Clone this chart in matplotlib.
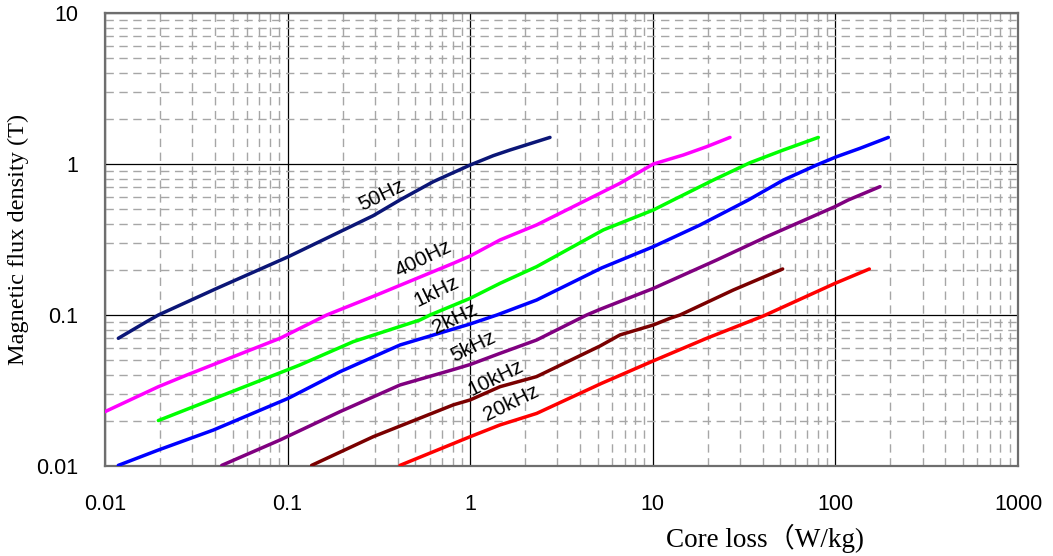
import matplotlib
matplotlib.use("Agg")
import matplotlib.pyplot as plt
from matplotlib.ticker import LogLocator, FixedLocator, FixedFormatter, NullFormatter

# Core loss (W/kg) vs. peak flux density (T) for each excitation frequency
loss_50hz = [0.01183, 0.0169, 0.0196, 0.0409, 0.101, 0.2947, 0.4126, 0.628, 1.0, 1.339, 1.652, 2.735]
flux_50hz = [0.0701, 0.0903, 0.100, 0.150, 0.2434, 0.455, 0.578, 0.764, 0.985, 1.136, 1.238, 1.50]

loss_400hz = [0.01, 0.0196, 0.028, 0.0909, 0.1637, 0.3075, 0.808, 1.0, 1.456, 2.312, 4.343, 6.61, 10.07, 14.69, 19.72, 26.47]
flux_400hz = [0.0229, 0.0335, 0.0400, 0.0701, 0.100, 0.1357, 0.220, 0.246, 0.314, 0.395, 0.578, 0.745, 1.0, 1.147, 1.302, 1.50]

loss_1khz = [0.0196, 0.028, 0.1169, 0.229, 0.531, 0.603, 1.0, 1.456, 2.312, 5.36, 10.07, 12.95, 21.45, 34.06, 51.87, 80.64]
flux_1khz = [0.020, 0.0237, 0.0467, 0.0666, 0.0927, 0.100, 0.129, 0.162, 0.209, 0.366, 0.496, 0.578, 0.783, 1.02, 1.238, 1.50]

loss_2khz = [0.01183, 0.0196, 0.0392, 0.101, 0.1936, 0.4126, 1.0, 1.40, 2.312, 5.25, 10.07, 18.14, 33.4, 51.87, 78.96, 101.6, 136.4, 195.0]
flux_2khz = [0.0101, 0.01276, 0.0173, 0.0281, 0.0421, 0.0633, 0.0872, 0.100, 0.1257, 0.205, 0.2835, 0.3945, 0.578, 0.783, 0.985, 1.118, 1.27, 1.50]

loss_5khz = [0.0436, 0.0909, 0.1936, 0.4126, 0.808, 1.0, 1.456, 2.312, 4.343, 5.137, 10.07, 22.38, 42.04, 99.5, 117.7, 175.5]
flux_5khz = [0.0101, 0.01487, 0.0229, 0.0344, 0.0435, 0.047, 0.0557, 0.0683, 0.100, 0.109, 0.150, 0.2313, 0.330, 0.522, 0.578, 0.708]

loss_10khz = [0.1354, 0.2947, 0.808, 1.0, 1.456, 2.312, 5.137, 6.61, 10.07, 12.42, 14.09, 27.6, 51.42]
flux_10khz = [0.0101, 0.01564, 0.0254, 0.0274, 0.0335, 0.0391, 0.0623, 0.0738, 0.0859, 0.0951, 0.100, 0.1464, 0.2017]

loss_20khz = [0.4126, 1.0, 1.456, 2.312, 5.25, 10.07, 19.72, 40.3, 99.5, 153.4]
flux_20khz = [0.0101, 0.01564, 0.0187, 0.0223, 0.0353, 0.0497, 0.0701, 0.0985, 0.162, 0.2017]

series_names = ["50Hz", "400Hz", "1kHz", "2kHz", "5kHz", "10kHz", "20kHz"]
series_loss = [loss_50hz, loss_400hz, loss_1khz, loss_2khz, loss_5khz, loss_10khz, loss_20khz]
series_flux = [flux_50hz, flux_400hz, flux_1khz, flux_2khz, flux_5khz, flux_10khz, flux_20khz]
series_colors = ["#0b1677", "#ff00ff", "#00ff00", "#0000ff", "#800080", "#7a0000", "#ff0000"]

# in-plot frequency tags: (x, y) anchor in data units
tag_positions = [(0.3275, 0.623), (0.5536, 0.2374), (0.6557, 0.1426), (0.8257, 0.0951),
                 (1.04, 0.0617), (1.381, 0.0381), (1.687, 0.026)]
tag_angle = 26

x_ticks = [0.01, 0.1, 1, 10, 100, 1000]
x_tick_labels = ["0.01", "0.1", "1", "10", "100", "1000"]
y_ticks = [0.01, 0.1, 1, 10]
y_tick_labels = ["0.01", "0.1", "1", "10"]

sans = ["Liberation Sans", "DejaVu Sans"]
serif = ["Liberation Serif", "Noto Sans CJK JP", "DejaVu Serif"]
plt.rcParams["font.family"] = sans
plt.rcParams["font.size"] = 14

fig = plt.figure(figsize=(10.53, 5.56), dpi=100)
ax = fig.add_axes([105 / 1053, 1 - 466 / 556, 913 / 1053, 453 / 556])
ax.set_xscale("log")
ax.set_yscale("log")
ax.set_xlim(0.01, 1000)
ax.set_ylim(0.01, 10)

ax.xaxis.set_major_locator(FixedLocator(x_ticks))
ax.xaxis.set_major_formatter(FixedFormatter(x_tick_labels))
ax.yaxis.set_major_locator(FixedLocator(y_ticks))
ax.yaxis.set_major_formatter(FixedFormatter(y_tick_labels))
for axis in (ax.xaxis, ax.yaxis):
    axis.set_minor_locator(LogLocator(base=10, subs=range(2, 10), numticks=20))
    axis.set_minor_formatter(NullFormatter())

ax.grid(which="minor", color="#a6a6a6", linestyle=(0, (6, 4)), linewidth=1.0)
ax.grid(which="major", color="black", linestyle="-", linewidth=0.9)
ax.set_axisbelow(True)

ax.tick_params(which="both", length=0, labelsize=15.5)
ax.tick_params(axis="x", pad=20)
ax.tick_params(axis="y", pad=19)

for side in ("top", "bottom", "left", "right"):
    ax.spines[side].set_color("#6e6e6e")
    ax.spines[side].set_linewidth(1.6)

for loss, flux, color in zip(series_loss, series_flux, series_colors):
    ax.plot(loss, flux, color=color, linewidth=2.5, solid_capstyle="round",
            solid_joinstyle="round", zorder=3)

for name, (tx, ty) in zip(series_names, tag_positions):
    ax.text(tx, ty, name, fontsize=15, family=sans, rotation=tag_angle,
            rotation_mode="anchor", ha="center", va="center", color="black", zorder=4)

ax.set_xlabel("Core loss\uff08W/kg)", family=serif, fontsize=19.5, va="center")
ax.xaxis.set_label_coords(0.723, -0.159)
ax.set_ylabel("Magnetic flux density (T)", family=serif, fontsize=17.5, va="center")
ax.yaxis.set_label_coords(-0.0953, 0.5)

fig.savefig("out.png", dpi=100)
